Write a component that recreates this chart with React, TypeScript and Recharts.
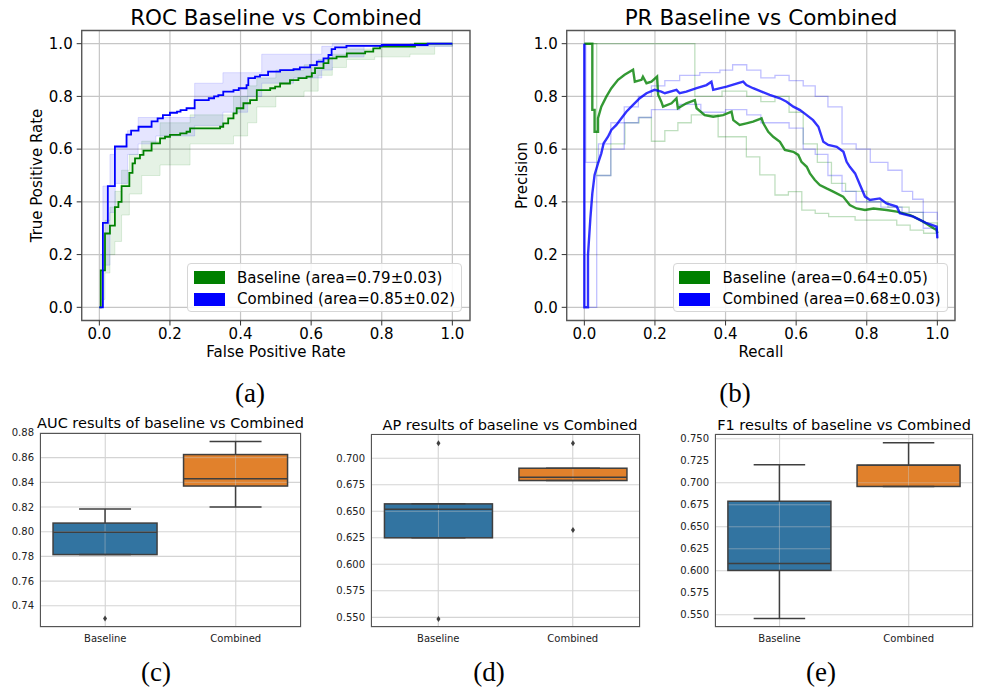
import React from 'react';
import { ComposedChart, Line, Area, Bar, XAxis, YAxis, CartesianGrid, ReferenceArea } from 'recharts';

type P = [number, number];
type B = [number, number, number];

// ---------- ROC data (fpr, tpr) ----------
const rocBaselineMean: P[] = [[0,0],[0.004,0.14],[0.016,0.28],[0.03,0.31],[0.044,0.38],[0.054,0.40],[0.063,0.46],[0.085,0.51],[0.094,0.546],[0.101,0.565],[0.115,0.578],[0.125,0.594],[0.148,0.622],[0.172,0.641],[0.186,0.647],[0.2,0.654],[0.229,0.66],[0.247,0.666],[0.257,0.679],[0.342,0.685],[0.351,0.698],[0.365,0.717],[0.38,0.736],[0.389,0.755],[0.408,0.774],[0.427,0.786],[0.446,0.824],[0.484,0.831],[0.498,0.837],[0.512,0.849],[0.54,0.862],[0.564,0.869],[0.587,0.875],[0.602,0.888],[0.611,0.907],[0.635,0.926],[0.649,0.944],[0.672,0.951],[0.701,0.963],[0.753,0.97],[0.776,0.982],[0.795,0.989],[0.894,1.0],[1.0,1.0]];
const rocCombinedMean: P[] = [[0,0],[0.01,0.32],[0.024,0.46],[0.044,0.61],[0.077,0.655],[0.09,0.67],[0.111,0.685],[0.148,0.705],[0.165,0.717],[0.18,0.729],[0.2,0.738],[0.22,0.742],[0.23,0.748],[0.247,0.755],[0.27,0.786],[0.31,0.793],[0.325,0.8],[0.337,0.805],[0.351,0.818],[0.38,0.824],[0.395,0.831],[0.417,0.843],[0.422,0.869],[0.441,0.875],[0.455,0.881],[0.478,0.894],[0.512,0.9],[0.55,0.903],[0.568,0.91],[0.597,0.919],[0.616,0.932],[0.635,0.944],[0.649,0.957],[0.658,0.979],[0.668,0.986],[0.70,0.992],[0.80,0.995],[0.93,1.0],[1.0,1.0]];
const rocBaselineBand: B[] = [[0,0,0],[0.004,0.03,0.2],[0.016,0.13,0.33],[0.03,0.2,0.38],[0.044,0.25,0.44],[0.063,0.35,0.52],[0.085,0.43,0.58],[0.12,0.5,0.63],[0.172,0.54,0.7],[0.257,0.62,0.73],[0.38,0.65,0.8],[0.42,0.7,0.84],[0.446,0.76,0.87],[0.5,0.8,0.9],[0.58,0.82,0.92],[0.62,0.88,0.94],[0.66,0.91,0.96],[0.7,0.94,0.98],[0.78,0.95,0.99],[0.88,0.96,1.0],[0.95,0.99,1.0],[1.0,1.0,1.0]];
const rocCombinedBand: B[] = [[0,0,0],[0.01,0.16,0.46],[0.03,0.36,0.58],[0.045,0.47,0.61],[0.08,0.58,0.67],[0.11,0.62,0.72],[0.16,0.65,0.72],[0.27,0.69,0.85],[0.35,0.74,0.89],[0.42,0.8,0.89],[0.46,0.85,0.96],[0.55,0.87,0.96],[0.63,0.9,0.99],[0.66,0.95,1.0],[0.75,0.99,1.0],[1.0,1.0,1.0]];

// ---------- PR data (recall, precision) ----------
const prBaselineMean: P[] = [[0,1],[0.0226,1],[0.0226,0.749],[0.029,0.749],[0.029,0.666],[0.0387,0.666],[0.0387,0.717],[0.048,0.761],[0.0623,0.799],[0.0765,0.831],[0.0954,0.863],[0.114,0.882],[0.138,0.901],[0.143,0.856],[0.162,0.863],[0.166,0.875],[0.176,0.85],[0.19,0.856],[0.206,0.875],[0.209,0.806],[0.218,0.78],[0.223,0.761],[0.247,0.774],[0.261,0.793],[0.265,0.755],[0.289,0.774],[0.313,0.786],[0.318,0.755],[0.341,0.729],[0.365,0.723],[0.393,0.729],[0.417,0.742],[0.422,0.71],[0.44,0.692],[0.459,0.698],[0.478,0.704],[0.502,0.717],[0.507,0.698],[0.521,0.666],[0.535,0.647],[0.554,0.628],[0.568,0.597],[0.592,0.59],[0.606,0.578],[0.615,0.552],[0.63,0.533],[0.639,0.508],[0.653,0.483],[0.667,0.464],[0.686,0.451],[0.705,0.439],[0.733,0.42],[0.752,0.388],[0.771,0.375],[0.795,0.369],[0.819,0.375],[0.856,0.369],[0.885,0.363],[0.923,0.35],[0.96,0.325],[0.989,0.3],[0.998,0.293],[1.0,0.281]];
const prCombinedMean: P[] = [[0,1],[0,0],[0.0103,0],[0.0103,0.198],[0.017,0.337],[0.0226,0.432],[0.029,0.502],[0.0387,0.546],[0.048,0.584],[0.0547,0.622],[0.067,0.647],[0.0765,0.673],[0.0907,0.692],[0.105,0.717],[0.119,0.742],[0.138,0.768],[0.157,0.793],[0.176,0.812],[0.199,0.825],[0.218,0.818],[0.228,0.812],[0.261,0.825],[0.27,0.812],[0.289,0.818],[0.318,0.831],[0.346,0.843],[0.36,0.856],[0.365,0.825],[0.403,0.837],[0.45,0.856],[0.459,0.843],[0.478,0.831],[0.502,0.818],[0.525,0.806],[0.554,0.793],[0.573,0.78],[0.592,0.761],[0.611,0.748],[0.63,0.729],[0.648,0.71],[0.663,0.685],[0.677,0.628],[0.691,0.616],[0.715,0.609],[0.734,0.59],[0.743,0.552],[0.752,0.533],[0.767,0.508],[0.781,0.464],[0.795,0.42],[0.809,0.407],[0.837,0.413],[0.856,0.394],[0.885,0.382],[0.894,0.357],[0.932,0.344],[0.97,0.319],[0.998,0.306],[1.0,0.262]];
const prBaselineUpper: P[] = [[0,1],[0.313,1],[0.313,0.8],[0.39,0.82],[0.46,0.8],[0.5,0.78],[0.54,0.8],[0.58,0.74],[0.62,0.62],[0.66,0.55],[0.7,0.47],[0.74,0.44],[0.8,0.4],[0.86,0.38],[0.92,0.36],[0.96,0.32],[1.0,0.28]];
const prBaselineLower: P[] = [[0,1],[0.035,1],[0.035,0.5],[0.075,0.62],[0.115,0.7],[0.155,0.72],[0.19,0.63],[0.228,0.67],[0.265,0.7],[0.303,0.73],[0.379,0.647],[0.459,0.571],[0.497,0.502],[0.54,0.426],[0.578,0.439],[0.616,0.369],[0.654,0.356],[0.692,0.344],[0.767,0.331],[0.885,0.312],[0.923,0.293],[0.961,0.281],[1.0,0.281]];
const prCombinedUpper: P[] = [[0,0],[0,1],[0.004,1],[0.004,0.55],[0.04,0.62],[0.075,0.7],[0.113,0.76],[0.153,0.8],[0.19,0.84],[0.228,0.86],[0.27,0.88],[0.327,0.89],[0.384,0.9],[0.42,0.92],[0.46,0.9],[0.5,0.87],[0.54,0.88],[0.58,0.86],[0.62,0.84],[0.654,0.8],[0.69,0.76],[0.73,0.62],[0.77,0.6],[0.81,0.55],[0.86,0.52],[0.9,0.44],[0.93,0.41],[0.96,0.36],[1.0,0.33]];
const prCombinedLower: P[] = [[0,0],[0.035,0],[0.035,0.5],[0.075,0.6],[0.113,0.7],[0.153,0.72],[0.19,0.75],[0.27,0.77],[0.33,0.74],[0.4,0.75],[0.46,0.73],[0.5,0.7],[0.58,0.68],[0.62,0.6],[0.654,0.58],[0.69,0.5],[0.73,0.44],[0.77,0.4],[0.84,0.38],[0.9,0.36],[0.96,0.3],[1.0,0.26]];

const unitTicks = [0, 0.2, 0.4, 0.6, 0.8, 1.0];
const rocLegend = ['Baseline (area=0.79±0.03)', 'Combined (area=0.85±0.02)'];
const prLegend = ['Baseline (area=0.64±0.05)', 'Combined (area=0.68±0.03)'];

// ---------- Box plot data ----------
const boxCategories = ['Baseline', 'Combined'];
// [whiskerLow, q1, median, q3, whiskerHigh]
const aucStats: number[][] = [[0.7815, 0.7815, 0.7995, 0.807, 0.8185], [0.820, 0.837, 0.843, 0.8625, 0.873]];
const aucOutliers: number[][] = [[0.7298], []];
const aucTicks = [0.74, 0.76, 0.78, 0.80, 0.82, 0.84, 0.86, 0.88];
const apStats: number[][] = [[0.625, 0.625, 0.652, 0.657, 0.657], [0.679, 0.679, 0.682, 0.6906, 0.6906]];
const apOutliers: number[][] = [[0.7142, 0.5484], [0.7142, 0.6324]];
const apTicks = [0.55, 0.575, 0.6, 0.625, 0.65, 0.675, 0.7];
const f1Stats: number[][] = [[0.5458, 0.6004, 0.6084, 0.679, 0.7204], [0.6958, 0.6958, 0.720, 0.720, 0.7454]];
const f1Outliers: number[][] = [[], []];
const f1Ticks = [0.55, 0.575, 0.6, 0.625, 0.65, 0.675, 0.7, 0.725, 0.75];

const FONT = '"DejaVu Sans", sans-serif';
const GREEN = '#008000';
const BLUE = '#0000ff';
const BOX_COLORS = ['#3274a1', '#e1812c'];
const EDGE = '#3f3f3f';

const toPts = (arr: P[]) => arr.map(([x, y]) => ({ x, y }));
const toBand = (arr: B[]) => arr.map(([x, lo, hi]) => ({ x, r: [lo, hi] }));
const f1d = (v: number) => v.toFixed(1);

function LegendBox({ labels, left, top }: { labels: string[]; left: number; top: number }) {
  const colors = [GREEN, BLUE];
  return (
    <div style={{ position: 'absolute', left, top, width: 275, height: 49, boxSizing: 'border-box', border: '1px solid #d6d6d6', borderRadius: 4, background: 'rgba(255,255,255,0.85)', fontFamily: FONT, fontSize: 15, color: '#000' }}>
      {labels.map((l, i) => (
        <div key={i} style={{ position: 'absolute', left: 5.5, top: 5.5 + i * 21.6, height: 16, display: 'flex', alignItems: 'center', whiteSpace: 'nowrap' }}>
          <span style={{ display: 'inline-block', width: 31, height: 13, background: colors[i] }} />
          <span style={{ marginLeft: 12.5, lineHeight: '16px' }}>{l}</span>
        </div>
      ))}
    </div>
  );
}

const axisTick = { fontSize: 15, fill: '#000', fontFamily: FONT };

function LineFrame({ children, width, left }: { children: React.ReactNode; width: number; left: number }) {
  return (
    <ComposedChart width={width} height={370} margin={{ top: 30.5, right: width - left - 388.3, bottom: 0, left: 0 }}>
      <CartesianGrid stroke="#c6c6c6" strokeWidth={1.2} />
      <XAxis type="number" dataKey="x" domain={[-0.05, 1.05]} ticks={unitTicks} tickFormatter={f1d} allowDataOverflow height={49.5} tick={axisTick} tickSize={5} tickMargin={3} axisLine={false} tickLine={{ stroke: '#333' }} />
      <YAxis type="number" dataKey="y" domain={[-0.05, 1.05]} ticks={unitTicks} tickFormatter={f1d} allowDataOverflow width={left} tick={axisTick} tickSize={5} tickMargin={4} axisLine={false} tickLine={{ stroke: '#333' }} />
      {children}
      <ReferenceArea x1={-0.05} x2={1.05} y1={-0.05} y2={1.05} fill="none" stroke="#555" strokeWidth={1.3} ifOverflow="visible" />
    </ComposedChart>
  );
}

function RocChart() {
  return (
    <LineFrame width={490} left={81.7}>
      <Area data={toBand(rocBaselineBand)} dataKey="r" type="stepAfter" fill={GREEN} fillOpacity={0.1} stroke={GREEN} strokeOpacity={0.12} isAnimationActive={false} />
      <Area data={toBand(rocCombinedBand)} dataKey="r" type="stepAfter" fill={BLUE} fillOpacity={0.1} stroke={BLUE} strokeOpacity={0.12} isAnimationActive={false} />
      <Line data={toPts(rocBaselineMean)} dataKey="y" type="stepAfter" stroke={GREEN} strokeWidth={1.8} dot={false} isAnimationActive={false} />
      <Line data={toPts(rocCombinedMean)} dataKey="y" type="stepAfter" stroke={BLUE} strokeWidth={1.8} dot={false} isAnimationActive={false} />
    </LineFrame>
  );
}

function PrChart() {
  return (
    <LineFrame width={500} left={76.7}>
      <Line data={toPts(prBaselineUpper)} dataKey="y" type="stepAfter" stroke={GREEN} strokeOpacity={0.25} strokeWidth={1.3} dot={false} isAnimationActive={false} />
      <Line data={toPts(prBaselineLower)} dataKey="y" type="stepAfter" stroke={GREEN} strokeOpacity={0.25} strokeWidth={1.3} dot={false} isAnimationActive={false} />
      <Line data={toPts(prCombinedUpper)} dataKey="y" type="stepAfter" stroke={BLUE} strokeOpacity={0.25} strokeWidth={1.3} dot={false} isAnimationActive={false} />
      <Line data={toPts(prCombinedLower)} dataKey="y" type="stepAfter" stroke={BLUE} strokeOpacity={0.25} strokeWidth={1.3} dot={false} isAnimationActive={false} />
      <Line data={toPts(prBaselineMean)} dataKey="y" type="linear" stroke={GREEN} strokeOpacity={0.8} strokeWidth={2.4} dot={false} isAnimationActive={false} />
      <Line data={toPts(prCombinedMean)} dataKey="y" type="linear" stroke={BLUE} strokeOpacity={0.8} strokeWidth={2.4} dot={false} isAnimationActive={false} />
    </LineFrame>
  );
}

function makeBoxShape(ticks: number[]) {
  return (props: any) => {
    const { x, y, width, height, payload, index } = props;
    const [q1, q3] = payload.box as number[];
    const pTop = Math.min(y, y + height);
    const pBot = Math.max(y, y + height);
    const py = (v: number) => pBot + ((v - q1) * (pTop - pBot)) / (q3 - q1);
    const cx = x + width / 2;
    const capL = cx - width / 4;
    const capR = cx + width / 4;
    const outs: number[] = payload.out;
    return (
      <g>
        <rect x={x} y={pTop} width={width} height={pBot - pTop} fill={BOX_COLORS[index]} stroke="none" />
        {ticks.filter((t) => t > q1 && t < q3).map((t) => (
          <line key={t} x1={x} x2={x + width} y1={py(t)} y2={py(t)} stroke="#c8c8c8" strokeOpacity={0.45} strokeWidth={1} />
        ))}
        <line x1={cx} x2={cx} y1={pTop} y2={pBot} stroke="#c8c8c8" strokeOpacity={0.45} strokeWidth={1} />
        <rect x={x} y={pTop} width={width} height={pBot - pTop} fill="none" stroke={EDGE} strokeWidth={1.5} />
        <line x1={cx} x2={cx} y1={py(payload.hi)} y2={pTop} stroke={EDGE} strokeWidth={1.5} />
        <line x1={cx} x2={cx} y1={pBot} y2={py(payload.lo)} stroke={EDGE} strokeWidth={1.5} />
        <line x1={capL} x2={capR} y1={py(payload.hi)} y2={py(payload.hi)} stroke={EDGE} strokeWidth={1.5} />
        <line x1={capL} x2={capR} y1={py(payload.lo)} y2={py(payload.lo)} stroke={EDGE} strokeWidth={1.5} />
        <line x1={x} x2={x + width} y1={py(payload.med)} y2={py(payload.med)} stroke={EDGE} strokeWidth={1.5} />
        {outs.map((o, i) => {
          const oy = py(o);
          return <path key={i} d={`M${cx},${oy - 3} L${cx + 2},${oy} L${cx},${oy + 3} L${cx - 2},${oy} Z`} fill={EDGE} />;
        })}
      </g>
    );
  };
}

function BoxChart({ stats, outliers, ticks, domain, digits, yWidth, top, right }: { stats: number[][]; outliers: number[][]; ticks: number[]; domain: [number, number]; digits: number; yWidth: number; top: number; right: number }) {
  const data = boxCategories.map((name, i) => ({
    name,
    box: [stats[i][1], stats[i][3]],
    lo: stats[i][0],
    med: stats[i][2],
    hi: stats[i][4],
    out: outliers[i],
  }));
  return (
    <ComposedChart width={330} height={250} data={data} margin={{ top, right, bottom: 0, left: 0 }} barCategoryGap="10%">
      <CartesianGrid stroke="#d4d4d4" strokeWidth={1.1} />
      <XAxis dataKey="name" type="category" height={22.7} tick={{ fontSize: 10, fill: '#222', fontFamily: FONT }} tickSize={0} tickMargin={7.5} axisLine={false} tickLine={false} />
      <YAxis type="number" domain={domain} ticks={ticks} allowDataOverflow tickFormatter={(v: number) => v.toFixed(digits)} width={yWidth} tick={{ fontSize: 10, fill: '#222', fontFamily: FONT }} tickSize={0} tickMargin={6} axisLine={false} tickLine={false} />
      <Bar dataKey="box" shape={makeBoxShape(ticks)} isAnimationActive={false} />
    </ComposedChart>
  );
}

function BoxFrame({ left, top, width, height }: { left: number; top: number; width: number; height: number }) {
  return <div style={{ position: 'absolute', left, top, width, height, boxSizing: 'border-box', border: '1.2px solid #555', pointerEvents: 'none' }} />;
}

export default function App() {
  return (
    <div style={{ position: 'absolute', left: 0, top: 0, width: 990, height: 688, background: '#fff', overflow: 'hidden' }}>
      <div style={{ position: 'absolute', left: 0, top: 0 }}><RocChart /></div>
      <div style={{ position: 'absolute', left: 490, top: 0 }}><PrChart /></div>
      <LegendBox labels={rocLegend} left={187} top={263} />
      <LegendBox labels={prLegend} left={672.5} top={263} />
      <div style={{ position: 'absolute', left: 0, top: 400 }}>
        <BoxChart stats={aucStats} outliers={aucOutliers} ticks={aucTicks} domain={[0.7226, 0.8802]} digits={2} yWidth={40} top={32.7} right={29} />
      </div>
      <div style={{ position: 'absolute', left: 330, top: 400 }}>
        <BoxChart stats={apStats} outliers={apOutliers} ticks={apTicks} domain={[0.5406, 0.7226]} digits={3} yWidth={41} top={34.3} right={20} />
      </div>
      <div style={{ position: 'absolute', left: 660, top: 400 }}>
        <BoxChart stats={f1Stats} outliers={f1Outliers} ticks={f1Ticks} domain={[0.5358, 0.7554]} digits={3} yWidth={55} top={34} right={16.7} />
      </div>
      <BoxFrame left={40} top={432.7} width={261} height={194.6} />
      <BoxFrame left={371} top={434.3} width={269} height={193} />
      <BoxFrame left={715} top={434} width={258.3} height={193.3} />
      <svg width={990} height={688} style={{ position: 'absolute', left: 0, top: 0, pointerEvents: 'none' }}>
        <g fontFamily={FONT} fill="#000">
          <text x={276} y={17} fontSize={21.5} textAnchor="middle" dominantBaseline="central">ROC Baseline vs Combined</text>
          <text x={761} y={17} fontSize={21.5} textAnchor="middle" dominantBaseline="central">PR Baseline vs Combined</text>
          <text x={276} y={352} fontSize={15} textAnchor="middle" dominantBaseline="central">False Positive Rate</text>
          <text x={761} y={352} fontSize={15} textAnchor="middle" dominantBaseline="central">Recall</text>
          <text x={37} y={175.5} fontSize={15} textAnchor="middle" dominantBaseline="central" transform="rotate(-90 37 175.5)">True Positive Rate</text>
          <text x={522} y={175.5} fontSize={15} textAnchor="middle" dominantBaseline="central" transform="rotate(-90 522 175.5)">Precision</text>
          <text x={170.5} y={423} fontSize={14.5} textAnchor="middle" dominantBaseline="central">AUC results of baseline vs Combined</text>
          <text x={510} y={424.5} fontSize={14.5} textAnchor="middle" dominantBaseline="central">AP results of baseline vs Combined</text>
          <text x={844} y={424.5} fontSize={14.5} textAnchor="middle" dominantBaseline="central">F1 results of baseline vs Combined</text>
        </g>
        <g fontFamily={'"Liberation Serif", serif'} fill="#000" fontSize={27}>
          <text x={250} y={393} textAnchor="middle" dominantBaseline="central">(a)</text>
          <text x={735} y={393} textAnchor="middle" dominantBaseline="central">(b)</text>
          <text x={156} y={672} textAnchor="middle" dominantBaseline="central">(c)</text>
          <text x={489} y={672} textAnchor="middle" dominantBaseline="central">(d)</text>
          <text x={821} y={672} textAnchor="middle" dominantBaseline="central">(e)</text>
        </g>
      </svg>
    </div>
  );
}
